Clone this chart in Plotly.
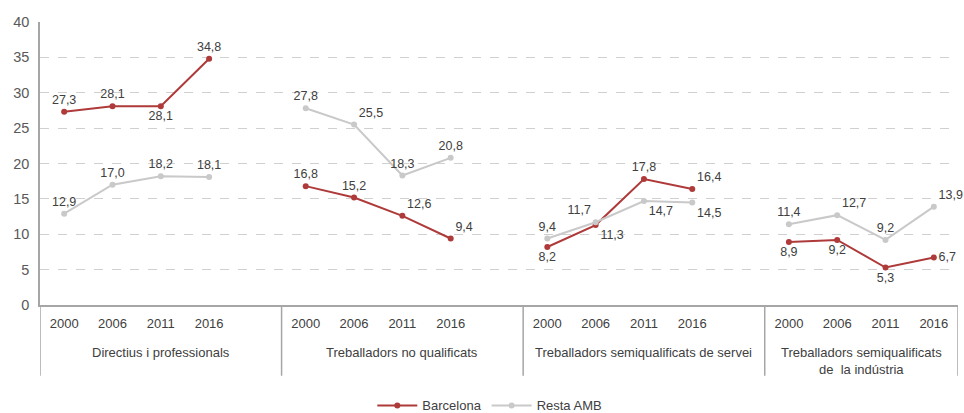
import plotly.graph_objects as go

groups = ["Directius i professionals", "Treballadors no qualificats",
          "Treballadors semiqualificats de servei", "Treballadors semiqualificats<br>de  la indústria"]
years = ["2000", "2006", "2011", "2016"]
barcelona = [[27.3, 28.1, 28.1, 34.8], [16.8, 15.2, 12.6, 9.4],
             [8.2, 11.3, 17.8, 16.4], [8.9, 9.2, 5.3, 6.7]]
resta = [[12.9, 17.0, 18.2, 18.1], [27.8, 25.5, 18.3, 20.8],
         [9.4, 11.7, 14.7, 14.5], [11.4, 12.7, 9.2, 13.9]]
bcn_pos = [["top center", "top center", "bottom center", "top center"],
           ["top center", "top center", "top right", "top right"],
           ["bottom center", "bottom right", "top center", "top right"],
           ["bottom center", "bottom center", "bottom center", "middle right"]]
resta_pos = [["top center", "top center", "top center", "top center"],
             ["top center", "top right", "top center", "top center"],
             ["top center", "top left", "bottom right", "bottom right"],
             ["top center", "top right", "top center", "top right"]]

SLOT = 5

def build(series, pos):
    xs, ys, tx, tp = [], [], [], []
    for g, vals in enumerate(series):
        for j, v in enumerate(vals):
            xs.append(g * SLOT + j)
            ys.append(v)
            tx.append(f"{v:.1f}".replace(".", ","))
            tp.append(pos[g][j])
        xs.append(None); ys.append(None); tx.append(""); tp.append("top center")
    return xs, ys, tx, tp

RED = "#AE3A3A"
GRAY = "#C9C9C9"
fig = go.Figure()
for name, data, pos, col in [("Barcelona", barcelona, bcn_pos, RED), ("Resta AMB", resta, resta_pos, GRAY)]:
    xs, ys, tx, tp = build(data, pos)
    fig.add_trace(go.Scatter(x=xs, y=ys, name=name, mode="lines+markers+text",
                             text=tx, textposition=tp, connectgaps=False, cliponaxis=False,
                             line=dict(color=col, width=2), marker=dict(color=col, size=6),
                             textfont=dict(size=12.5, color="#404040")))

xmin, xmax = -0.5, (len(groups) - 1) * SLOT + len(years) - 0.5
tickvals = [g * SLOT + j for g in range(len(groups)) for j in range(len(years))]
ticktext = [years[j] for g in range(len(groups)) for j in range(len(years))]

shapes = []
bounds = [g * SLOT - 0.5 for g in range(len(groups))] + [xmax]
for b in bounds:
    shapes.append(dict(type="line", xref="x", yref="paper", x0=b, x1=b, y0=0, y1=-0.25,
                       line=dict(color="#A6A6A6", width=1.5)))

annotations = []
for g, lab in enumerate(groups):
    left = bounds[g]
    right = bounds[g + 1]
    annotations.append(dict(x=(left + right) / 2, y=-0.135, xref="x", yref="paper",
                            text=lab, showarrow=False, yanchor="top",
                            font=dict(size=13, color="#404040")))

fig.update_layout(
    width=964, height=413,
    margin=dict(l=40, r=6, t=22, b=108, autoexpand=False),
    plot_bgcolor="white", paper_bgcolor="white",
    font=dict(family="Liberation Sans, Arial, sans-serif", color="#595959"),
    showlegend=True,
    legend=dict(orientation="h", x=0.49, xanchor="center", y=-0.355, yanchor="middle",
                font=dict(size=13, color="#404040"), itemwidth=40, tracegroupgap=0),
    shapes=shapes, annotations=annotations,
    xaxis=dict(range=[xmin, xmax], tickvals=tickvals, ticktext=ticktext, showgrid=False,
               zeroline=False, showline=True, linecolor="#A6A6A6", linewidth=1.5,
               ticks="outside", ticklen=6, tickcolor="rgba(0,0,0,0)", automargin=False,
               tickfont=dict(size=13, color="#404040")),
    yaxis=dict(range=[0, 40], dtick=5, showgrid=True, gridcolor="#D0D0D0", griddash="dash",
               gridwidth=1, zeroline=False, showline=True, linecolor="#A6A6A6", linewidth=1.5,
               ticks="outside", ticklen=6, tickcolor="rgba(0,0,0,0)", automargin=False,
               tickfont=dict(size=14.5, color="#595959")),
)
fig.write_html("out.html", config={"displayModeBar": False},
               post_script="document.body.style.margin='0';document.body.style.overflow='hidden';")
